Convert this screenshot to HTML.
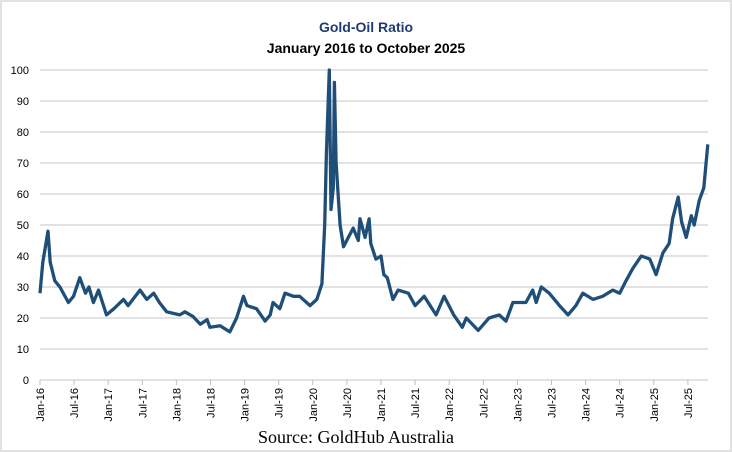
<!DOCTYPE html>
<html><head><meta charset="utf-8"><style>
body{margin:0;background:#fff}
svg{display:block}
</style></head><body>
<svg id="chart" width="732" height="452" font-family="'Liberation Sans',sans-serif">
<rect x="1" y="1" width="730" height="450" fill="#fff" stroke="#d9d9d9" stroke-width="1.5"/>
<text x="366" y="32" text-anchor="middle" font-size="14" font-weight="bold" fill="#1f3b73">Gold-Oil Ratio</text>
<text x="366" y="53" text-anchor="middle" font-size="14" font-weight="bold" fill="#000">January 2016 to October 2025</text>
<g id="grid"></g><g id="yticks"></g><g id="xticks"></g>
<path id="line" fill="none" stroke="#1f4e79" stroke-width="3.3" stroke-linejoin="round"/>
<text x="356" y="443" text-anchor="middle" font-size="18" font-family="'Liberation Serif',serif" fill="#000">Source: GoldHub Australia</text>
</svg>
<script>
const months=[0,0.5,1.4,1.8,2.6,3.5,5,5.9,7,8,8.6,9.4,10.3,11.7,13,14.7,15.5,17.6,18.8,20,21,22.3,24.6,25.5,26.9,28.2,29.4,29.9,31.7,33.4,34.6,35.8,36.4,38.1,39.6,40.5,41,42.2,43.1,44.6,45.7,47.5,48.7,49.6,50.1,50.4,50.9,51.2,51.6,51.8,52.1,52.8,53.4,55.1,56,56.3,57.2,57.9,58.2,59.1,60,60.5,61.1,62.1,63,64.8,66,67.6,69.7,71.1,72.8,74.3,75,77.1,79,80.8,82,83.2,85.5,86.7,87.3,88.2,89.6,91.4,92.9,94.3,95.5,97.3,99,100.8,102,103.1,104.3,105.8,107.3,108.4,109.6,110.7,111.3,112.3,112.9,113.7,114.6,115.1,116,116.8,117.5];
const ratio=[28,38,48,38,32,30,25,27,33,28,30,25,29,21,23,26,24,29,26,28,25,22,21,22,20.5,18,19.5,17,17.5,15.5,20,27,24,23,19,21,25,23,28,27,27,24,26,31,50,73,100,55,62,96,70,50,43,49,45,52,46,52,44,39,40,34,33,26,29,28,24,27,21,27,21,17,20,16,20,21,19,25,25,29,25,30,28,24,21,24,28,26,27,29,28,32,36,40,39,34,41,44,52,59,51,46,53,50,58,62,76];
const yTicks=[0,10,20,30,40,50,60,70,80,90,100];
const xLabels=["Jan-16","Jul-16","Jan-17","Jul-17","Jan-18","Jul-18","Jan-19","Jul-19","Jan-20","Jul-20","Jan-21","Jul-21","Jan-22","Jul-22","Jan-23","Jul-23","Jan-24","Jul-24","Jan-25","Jul-25"];
const X0=40,PXM=68.2/12,Y0=380,PYU=3.1,XR=708;
const xs=m=>X0+m*PXM, ys=v=>Y0-v*PYU;
const NS="http://www.w3.org/2000/svg";
const g=document.getElementById('grid'),yt=document.getElementById('yticks'),xt=document.getElementById('xticks');
yTicks.forEach(v=>{
 const l=document.createElementNS(NS,'line');
 l.setAttribute('x1',X0);l.setAttribute('x2',XR);l.setAttribute('y1',ys(v));l.setAttribute('y2',ys(v));
 l.setAttribute('stroke','#d9d9d9');l.setAttribute('stroke-width','1.5');
 
 
 g.appendChild(l);
 const t=document.createElementNS(NS,'text');
 t.setAttribute('x',29);t.setAttribute('y',ys(v)+4);t.setAttribute('text-anchor','end');t.setAttribute('font-size','11');
 t.textContent=v;
 
 
 yt.appendChild(t);
});
xLabels.forEach((lab,i)=>{
 const x=xs(i*6);
 const l=document.createElementNS(NS,'line');
 l.setAttribute('x1',x);l.setAttribute('x2',x);l.setAttribute('y1',Y0);l.setAttribute('y2',Y0+5);l.setAttribute('stroke','#bfbfbf');
 
 
 xt.appendChild(l);
 const t=document.createElementNS(NS,'text');
 t.setAttribute('transform','translate('+(x+4)+','+(Y0+8)+') rotate(-90)');
 t.setAttribute('text-anchor','end');t.setAttribute('font-size','11');
 t.textContent=lab;
 
 
 xt.appendChild(t);
});
document.getElementById('line').setAttribute('d',months.map((m,i)=>(i?'L':'M')+xs(m).toFixed(1)+','+ys(ratio[i]).toFixed(1)).join(''));
</script>
</body></html>
